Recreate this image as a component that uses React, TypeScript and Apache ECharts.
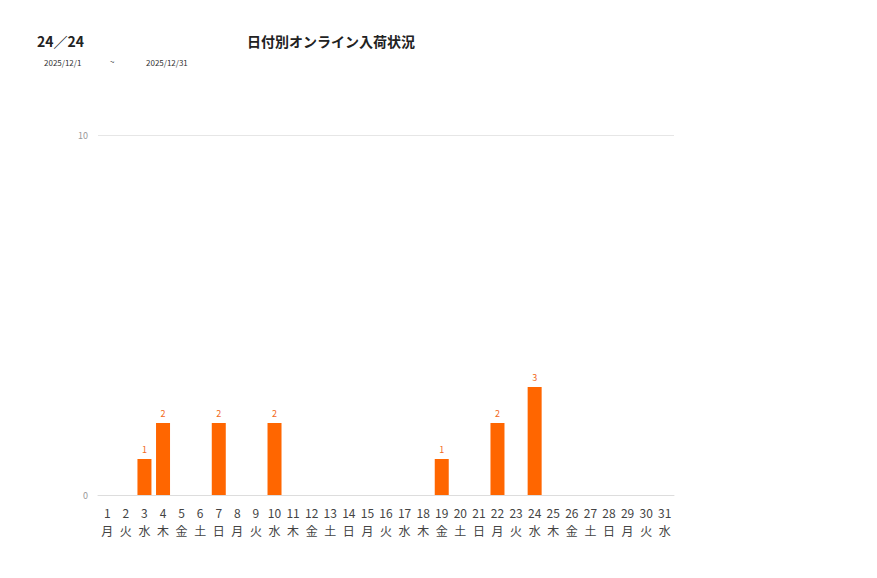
import * as echarts from "echarts"
import { useEffect, useRef } from "react"

const days = Array.from({ length: 31 }, (_, i) => String(i + 1))
const weekdays = [
  "月", "火", "水", "木", "金", "土", "日",
  "月", "火", "水", "木", "金", "土", "日",
  "月", "火", "水", "木", "金", "土", "日",
  "月", "火", "水", "木", "金", "土", "日",
  "月", "火", "水",
]
const arrivals = [
  0, 0, 1, 2, 0, 0, 2, 0, 0, 2, 0, 0, 0, 0, 0, 0, 0, 0, 1, 0, 0, 2, 0, 3, 0, 0, 0, 0, 0, 0, 0,
]
const yTicks = [0, 10]

const FONT = "'Noto Sans CJK JP', 'Noto Sans', sans-serif"

export default function App() {
  const ref = useRef<HTMLDivElement>(null)

  useEffect(() => {
    if (!ref.current) return
    const chart = echarts.init(ref.current, null, { renderer: "svg" })

    // titles have a 5px default padding, hence the offsets
    chart.setOption({
      animation: false,
      textStyle: { fontFamily: FONT },
      title: [
        {
          text: "24／24",
          left: 32,
          top: 29,
          textStyle: { fontSize: 14, fontWeight: "bold", color: "#222", fontFamily: FONT },
        },
        {
          text: "日付別オンライン入荷状況",
          left: 242,
          top: 29,
          textStyle: { fontSize: 14, fontWeight: "bold", color: "#222", fontFamily: FONT },
        },
        { text: "2025/12/1", left: 39, top: 53, textStyle: { fontSize: 8, fontWeight: "normal", color: "#333" } },
        { text: "~", left: 105, top: 52, textStyle: { fontSize: 8, fontWeight: "normal", color: "#333" } },
        { text: "2025/12/31", left: 141, top: 53, textStyle: { fontSize: 8, fontWeight: "normal", color: "#333" } },
      ],
      grid: { left: 98, right: 203, top: 135, bottom: 83 },
      xAxis: {
        type: "category",
        data: days.map((d, i) => `${d}\n${weekdays[i]}`),
        axisTick: { show: false },
        axisLine: { lineStyle: { color: "#dddddd" } },
        axisLabel: { color: "#444", fontSize: 12, lineHeight: 18, margin: 8, interval: 0 },
      },
      yAxis: {
        type: "value",
        min: yTicks[0],
        max: yTicks[yTicks.length - 1],
        interval: yTicks[1] - yTicks[0],
        axisLine: { show: false },
        axisTick: { show: false },
        splitLine: { lineStyle: { color: "#e6e6e6" } },
        axisLabel: { color: "#999", fontSize: 9, margin: 10 },
      },
      series: [
        {
          type: "bar",
          data: arrivals,
          barWidth: 14,
          itemStyle: { color: "#ff6600" },
          label: {
            show: true,
            position: "top",
            distance: 5,
            fontSize: 9,
            color: "#f26a1b",
            formatter: (p: { value: number }) => (p.value ? String(p.value) : ""),
          },
        },
      ],
    })

    return () => chart.dispose()
  }, [])

  return <div ref={ref} style={{ position: "absolute", left: 0, top: 0, width: 877, height: 578 }} />
}
